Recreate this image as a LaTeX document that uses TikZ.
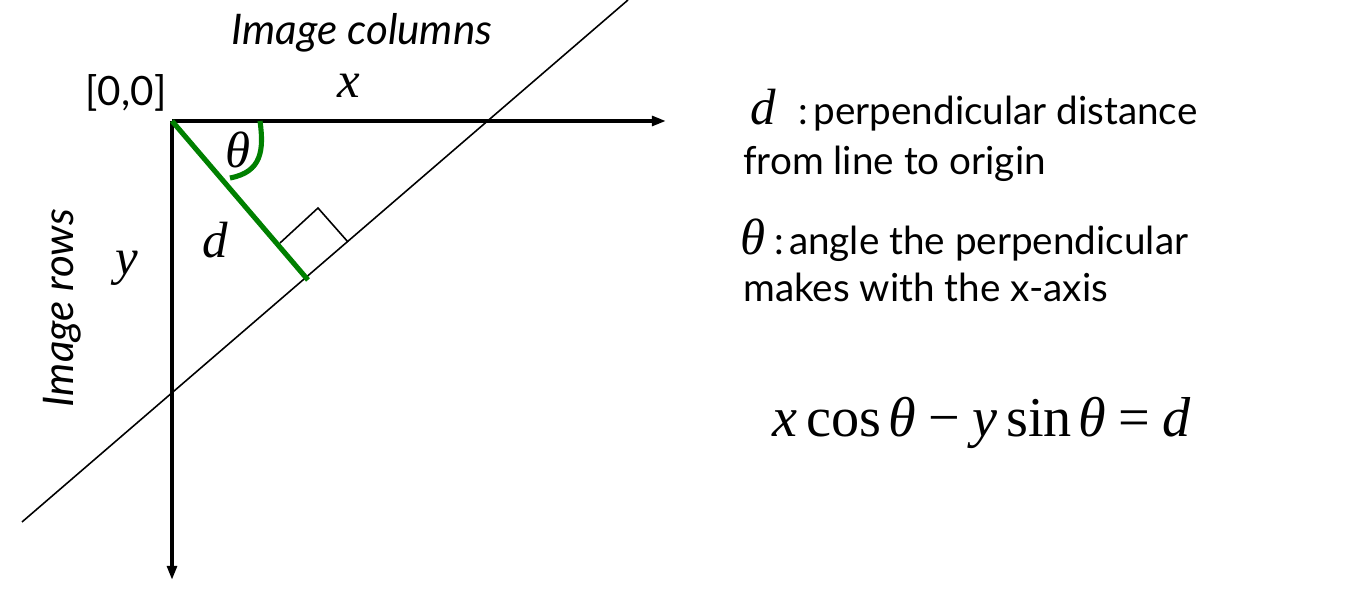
\documentclass[tikz,border=0pt]{standalone}
\usepackage{fontspec}
\setmainfont{Lato}
\newfontfamily\mser{Liberation Serif}
\usetikzlibrary{arrows.meta}
\newcommand{\mvar}[1]{{\mser\itshape #1}}
\tikzset{
  axis/.style={line width=2pt, -{Triangle[length=8pt,width=5.5pt]}},
  thinline/.style={line width=0.9pt},
  perp/.style={line width=2.9pt, draw={rgb,255:red,0;green,128;blue,0}},
  mathlbl/.style={font=\fontsize{29}{32}\selectfont},
  bodytxt/.style={font=\fontsize{22}{26}\selectfont, anchor=base west, inner sep=0pt},
  axlbl/.style={font=\fontsize{24}{28}\selectfont\itshape},
}
\begin{document}
\begin{tikzpicture}[x=0.02cm,y=-0.02cm]
\useasboundingbox (0,0) rectangle (1360,590);
\coordinate (O) at (172,121);
\coordinate (xend) at (666,121);
\coordinate (yend) at (172,580);
\coordinate (la) at (22,522);
\coordinate (lb) at (628,0);
\coordinate (F) at (308,280);
\coordinate (sq1) at (280,243);
\coordinate (sq2) at (318,208);
\coordinate (sq3) at (348,242);
\coordinate (arcA) at (260,121);
\coordinate (arcB) at (230,178);
\draw[thinline] (la) -- (lb);
\draw[axis] (O) -- (xend);
\draw[axis] (O) -- (yend);
\draw[thinline] (sq1) -- (sq2) -- (sq3);
\draw[perp] (O) -- (F);
\draw[perp] (arcA) .. controls (264,150) and (262,172) .. (arcB);
\node[axlbl] (cols) at (362,33) {Image columns};
\node[axlbl, rotate=90] (rows) at (62,308) {Image rows};
\node[font=\fontsize{23}{26}\selectfont] (orig) at (126,93) {[0,0]};
\node[mathlbl] (xl) at (349,86) {\mvar{x}};
\node[mathlbl] (yl) at (127,268) {\mvar{y}};
\node[mathlbl] (dl) at (215,240) {\mvar{d}};
\node[mathlbl] (tl) at (238,150) {\mvar{θ}};
\node[bodytxt] (t1) at (750,125) {{\fontsize{29}{30}\selectfont\mvar{d}}\hspace{13pt}:\hspace{3pt}perpendicular distance};
\node[bodytxt] (t2) at (743,175) {from line to origin};
\node[bodytxt] (t3) at (740,255) {{\fontsize{29}{30}\selectfont\mvar{θ}}\hspace{5pt}:\hspace{3pt}angle the perpendicular};
\node[bodytxt] (t4) at (743,302) {makes with the x-axis};
\node[font=\fontsize{32}{35}\selectfont] (eq) at (982,423) {\mvar{x}\hspace{5pt}{\mser cos}\hspace{4pt}\mvar{θ}\hspace{7pt}{\mser −}\hspace{7pt}\mvar{y}\hspace{5pt}{\mser sin}\hspace{4pt}\mvar{θ}\hspace{7pt}{\mser =}\hspace{7pt}\mvar{d}};
\end{tikzpicture}
\end{document}
